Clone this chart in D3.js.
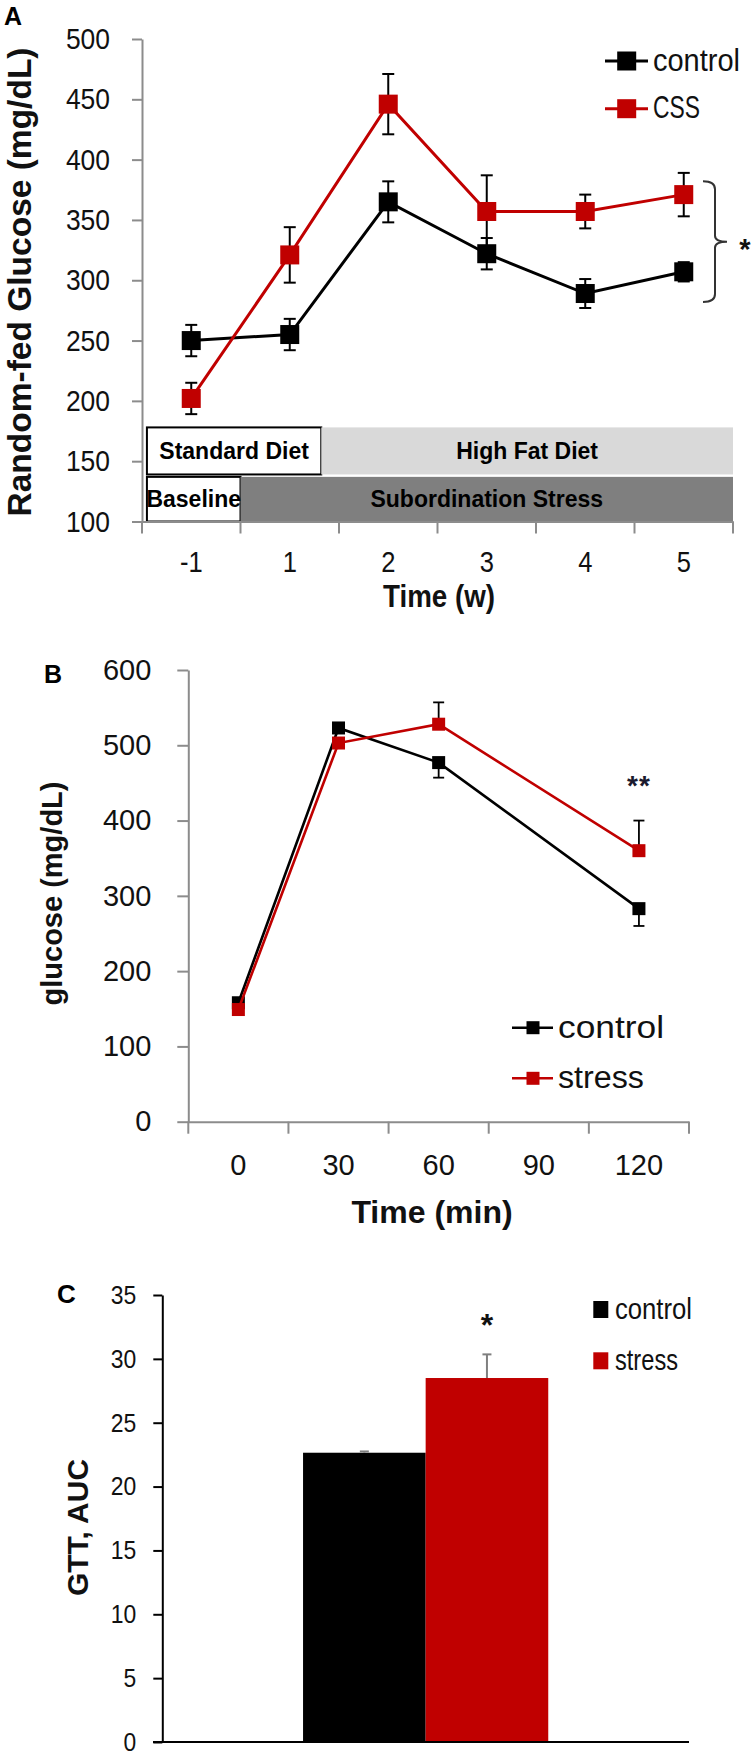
<!DOCTYPE html>
<html>
<head>
<meta charset="utf-8">
<script src="https://cdn.jsdelivr.net/npm/d3@7"></script>
<style>
  html, body { margin: 0; padding: 0; background: #fff; }
  svg { display: block; }
</style>
</head>
<body>
<div id="chart"></div>
<script>
// ---------------- DATA ----------------
// Panel A: random-fed glucose over weeks
const weeksA = ["-1", "1", "2", "3", "4", "5"];
const controlA = [250, 255, 365, 322, 289, 307];
const controlAErr = [13, 13, 17, 13, 12, 8];
const cssA = [202, 321, 446, 357, 357, 371];
const cssAErr = [13, 23, 25, 30, 14, 18];
const yTicksA = [100, 150, 200, 250, 300, 350, 400, 450, 500];
const seriesNamesA = ["control", "CSS"];
// phases in category-index units (0 = start of first week band)
const dietPhases = [
  { label: "Standard Diet", from: 0.05, to: 1.82, top: 178, bottom: 139, kind: "white" },
  { label: "High Fat Diet", from: 1.82, to: 6, top: 178, bottom: 139, kind: "light" }
];
const stressPhases = [
  { label: "Baseline", from: 0.05, to: 1.0, top: 137, bottom: 100, kind: "white" },
  { label: "Subordination Stress", from: 1.0, to: 6, top: 137, bottom: 100, kind: "dark" }
];
const bracketA = { top: 382, bottom: 282, label: "*" };

// Panel B: glucose tolerance test
const timesB = ["0", "30", "60", "90", "120"];
const controlB = [158, 523, 477, null, 283];
const controlBErr = [0, 0, 20, null, 23];
const stressB = [149, 503, 528, null, 360];
const stressBErr = [0, 0, 29, null, 40];
const yTicksB = [0, 100, 200, 300, 400, 500, 600];
const seriesNamesB = ["control", "stress"];
const sigB = { time: "120", label: "**" };

// Panel C: GTT AUC
const seriesC = ["control", "stress"];
const valuesC = [22.65, 28.5];
const errC = [0.1, 1.85];
const yTicksC = [0, 5, 10, 15, 20, 25, 30, 35];
const sigC = { series: "stress", value: 33.2, label: "*" };

// ---------------- STYLE ----------------
const W = 756, H = 1758;
const RED = "#c00000", BLACK = "#000000";
const AXIS_GRAY = "#8c8c8c";
const SANS = "'Liberation Sans',Arial,sans-serif";

// horizontally condense a text selection by a factor (font looks narrower, like the original)
function condense(sel, factor) {
  sel.each(function () {
    const L = this.getComputedTextLength();
    this.setAttribute("textLength", (L * factor).toFixed(1));
    this.setAttribute("lengthAdjust", "spacingAndGlyphs");
  });
}
function fitWidth(sel, width) {
  sel.attr("textLength", width).attr("lengthAdjust", "spacingAndGlyphs");
}

const svg = d3.select("#chart").append("svg")
  .attr("width", W).attr("height", H)
  .attr("viewBox", `0 0 ${W} ${H}`);

// ================= PANEL A =================
(function () {
  const g = svg.append("g");
  const x = d3.scaleBand().domain(weeksA).range([142, 733]);
  const step = x.step();
  const xu = u => x.range()[0] + u * step;
  const y = d3.scaleLinear().domain([100, 500]).range([521.5, 39]);

  // phase boxes
  const allPhases = dietPhases.concat(stressPhases);
  const fillOf = { white: "#ffffff", light: "#d9d9d9", dark: "#7f7f7f" };
  g.selectAll("rect.phase").data(allPhases).join("rect")
    .attr("class", "phase")
    .attr("x", d => xu(d.from)).attr("width", d => xu(d.to) - xu(d.from))
    .attr("y", d => y(d.top)).attr("height", d => y(d.bottom) - y(d.top))
    .attr("fill", d => fillOf[d.kind])
    .attr("stroke", d => d.kind === "white" ? "#000" : "none")
    .attr("stroke-width", 2);
  g.selectAll("text.phase").data(allPhases).join("text")
    .attr("class", "phase")
    .attr("x", d => (xu(d.from) + xu(d.to)) / 2)
    .attr("y", d => (y(d.top) + y(d.bottom)) / 2 + 8)
    .attr("text-anchor", "middle")
    .attr("font-family", SANS).attr("font-weight", "bold").attr("font-size", 23)
    .attr("fill", "#000")
    .text(d => d.label);

  // y axis
  const ya = g.append("g").attr("transform", "translate(142,0)")
    .call(d3.axisLeft(y).tickValues(yTicksA).tickSize(10).tickSizeOuter(0).tickPadding(22));
  ya.select(".domain").attr("stroke", AXIS_GRAY).attr("stroke-width", 2);
  ya.selectAll(".tick line").attr("stroke", AXIS_GRAY).attr("stroke-width", 2);
  ya.selectAll(".tick text").attr("font-family", SANS).attr("font-size", 30).attr("fill", "#111")
    .call(condense, 0.88);

  // x axis
  const xa = g.append("g").attr("transform", `translate(0,${y(100)})`)
    .call(d3.axisBottom(x).tickSize(0).tickSizeOuter(0));
  xa.select(".domain").attr("stroke", AXIS_GRAY).attr("stroke-width", 2);
  xa.selectAll(".tick text").attr("font-family", SANS).attr("font-size", 29)
    .attr("fill", "#111").attr("dy", null).attr("y", 50.5)
    .call(condense, 0.88);
  const bounds = weeksA.map(d => x(d)).concat([x.range()[1]]);
  xa.selectAll("line.bnd").data(bounds).join("line").attr("class", "bnd")
    .attr("x1", d => d).attr("x2", d => d).attr("y1", 0).attr("y2", 12)
    .attr("stroke", AXIS_GRAY).attr("stroke-width", 2);

  // series
  const series = [
    { name: seriesNamesA[0], vals: controlA, err: controlAErr, color: BLACK, w: 87 },
    { name: seriesNamesA[1], vals: cssA, err: cssAErr, color: RED, w: 47 }
  ];
  const cx = d => x(d) + x.bandwidth() / 2;
  series.forEach(s => {
    const pts = weeksA.map((w, i) => ({ w, v: s.vals[i], e: s.err[i] }));
    const sg = g.append("g");
    sg.append("path").datum(pts)
      .attr("d", d3.line().x(d => cx(d.w)).y(d => y(d.v)))
      .attr("fill", "none").attr("stroke", s.color).attr("stroke-width", 3);
    const eb = sg.selectAll("g.err").data(pts).join("g").attr("class", "err");
    eb.append("line").attr("x1", d => cx(d.w)).attr("x2", d => cx(d.w))
      .attr("y1", d => y(d.v + d.e)).attr("y2", d => y(d.v - d.e))
      .attr("stroke", "#000").attr("stroke-width", 2);
    eb.append("line").attr("x1", d => cx(d.w) - 6).attr("x2", d => cx(d.w) + 6)
      .attr("y1", d => y(d.v + d.e)).attr("y2", d => y(d.v + d.e))
      .attr("stroke", "#000").attr("stroke-width", 2);
    eb.append("line").attr("x1", d => cx(d.w) - 6).attr("x2", d => cx(d.w) + 6)
      .attr("y1", d => y(d.v - d.e)).attr("y2", d => y(d.v - d.e))
      .attr("stroke", "#000").attr("stroke-width", 2);
    sg.selectAll("rect.mk").data(pts).join("rect").attr("class", "mk")
      .attr("x", d => cx(d.w) - 9.5).attr("y", d => y(d.v) - 9.5)
      .attr("width", 19).attr("height", 19).attr("fill", s.color);
  });

  // bracket with significance
  const bt = y(bracketA.top), bb = y(bracketA.bottom), bm = (bt + bb) / 2;
  g.append("path")
    .attr("d", `M703,${bt} Q715,${bt} 715,${bt + 8} L715,${bm - 6} Q715,${bm} 727,${bm} Q715,${bm} 715,${bm + 6} L715,${bb - 8} Q715,${bb} 703,${bb}`)
    .attr("fill", "none").attr("stroke", "#333").attr("stroke-width", 2);
  g.append("text").attr("x", 745).attr("y", bm + 17)
    .attr("text-anchor", "middle").attr("font-family", SANS).attr("font-weight", "bold")
    .attr("font-size", 29).attr("fill", "#111").text(bracketA.label);

  // legend
  const lg = g.append("g");
  series.forEach((s, i) => {
    const ly = 61 + i * 47.7;
    lg.append("line").attr("x1", 605).attr("x2", 648).attr("y1", ly).attr("y2", ly)
      .attr("stroke", s.color).attr("stroke-width", 3);
    lg.append("rect").attr("x", 626.7 - 9.5).attr("y", ly - 9.5).attr("width", 19).attr("height", 19)
      .attr("fill", s.color);
    lg.append("text").attr("x", 653).attr("y", ly + 9.5)
      .attr("font-family", SANS).attr("font-size", 32).attr("fill", "#111").text(s.name)
      .call(fitWidth, s.w);
  });

  // titles
  g.append("text").attr("transform", "translate(31,282) rotate(-90)")
    .attr("text-anchor", "middle").attr("font-family", SANS).attr("font-weight", "bold")
    .attr("font-size", 33.5).attr("fill", "#111").text("Random-fed Glucose (mg/dL)");
  g.append("text").attr("x", 439).attr("y", 607).attr("text-anchor", "middle")
    .attr("font-family", SANS).attr("font-weight", "bold").attr("font-size", 32)
    .attr("fill", "#111").text("Time (w)").call(fitWidth, 112);
  g.append("text").attr("x", 4).attr("y", 25).attr("font-family", SANS)
    .attr("font-weight", "bold").attr("font-size", 25).attr("fill", "#000").text("A");
})();

// ================= PANEL B =================
(function () {
  const g = svg.append("g");
  const x = d3.scaleBand().domain(timesB).range([188.3, 689]);
  const y = d3.scaleLinear().domain([0, 600]).range([1121.7, 670]);
  const cx = d => x(d) + x.bandwidth() / 2;

  const ya = g.append("g").attr("transform", "translate(188.3,0)")
    .call(d3.axisLeft(y).tickValues(yTicksB).tickSize(11).tickSizeOuter(0).tickPadding(26));
  ya.select(".domain").attr("stroke", AXIS_GRAY).attr("stroke-width", 2);
  ya.selectAll(".tick line").attr("stroke", AXIS_GRAY).attr("stroke-width", 2);
  ya.selectAll(".tick text").attr("font-family", SANS).attr("font-size", 29).attr("fill", "#111");

  const xa = g.append("g").attr("transform", `translate(0,${y(0)})`)
    .call(d3.axisBottom(x).tickSize(0).tickSizeOuter(0));
  xa.select(".domain").attr("stroke", AXIS_GRAY).attr("stroke-width", 2);
  xa.selectAll(".tick text").attr("font-family", SANS).attr("font-size", 29)
    .attr("fill", "#111").attr("dy", null).attr("y", 53.5);
  const bounds = timesB.map(d => x(d)).concat([x.range()[1]]);
  xa.selectAll("line.bnd").data(bounds).join("line").attr("class", "bnd")
    .attr("x1", d => d).attr("x2", d => d).attr("y1", 0).attr("y2", 12)
    .attr("stroke", AXIS_GRAY).attr("stroke-width", 2);

  const series = [
    { name: seriesNamesB[0], vals: controlB, err: controlBErr, color: BLACK, dir: -1, w: 106 },
    { name: seriesNamesB[1], vals: stressB, err: stressBErr, color: RED, dir: 1, w: 86 }
  ];
  series.forEach(s => {
    const pts = timesB.map((t, i) => ({ t, v: s.vals[i], e: s.err[i] })).filter(d => d.v != null);
    const sg = g.append("g");
    sg.append("path").datum(pts)
      .attr("d", d3.line().x(d => cx(d.t)).y(d => y(d.v)))
      .attr("fill", "none").attr("stroke", s.color).attr("stroke-width", 2.6);
    const eb = sg.selectAll("g.err").data(pts.filter(d => d.e > 0)).join("g").attr("class", "err");
    eb.append("line").attr("x1", d => cx(d.t)).attr("x2", d => cx(d.t))
      .attr("y1", d => y(d.v)).attr("y2", d => y(d.v + s.dir * d.e))
      .attr("stroke", "#000").attr("stroke-width", 1.8);
    eb.append("line").attr("x1", d => cx(d.t) - 5.5).attr("x2", d => cx(d.t) + 5.5)
      .attr("y1", d => y(d.v + s.dir * d.e)).attr("y2", d => y(d.v + s.dir * d.e))
      .attr("stroke", "#000").attr("stroke-width", 1.8);
    sg.selectAll("rect.mk").data(pts).join("rect").attr("class", "mk")
      .attr("x", d => cx(d.t) - 6.5).attr("y", d => y(d.v) - 6.5)
      .attr("width", 13).attr("height", 13).attr("fill", s.color);
  });

  g.append("text").attr("x", cx(sigB.time)).attr("y", 795).attr("text-anchor", "middle")
    .attr("font-family", SANS).attr("font-weight", "bold").attr("font-size", 28)
    .attr("letter-spacing", 1).attr("fill", "#1a1a2e").text(sigB.label);

  // legend
  series.forEach((s, i) => {
    const ly = 1027.7 + i * 50.6;
    g.append("line").attr("x1", 512).attr("x2", 553).attr("y1", ly).attr("y2", ly)
      .attr("stroke", s.color).attr("stroke-width", 2.6);
    g.append("rect").attr("x", 533 - 6.5).attr("y", ly - 6.5).attr("width", 13).attr("height", 13)
      .attr("fill", s.color);
    g.append("text").attr("x", 558).attr("y", ly + 10)
      .attr("font-family", SANS).attr("font-size", 31).attr("fill", "#111").text(s.name)
      .call(fitWidth, s.w);
  });

  g.append("text").attr("transform", "translate(62,893.5) rotate(-90)")
    .attr("text-anchor", "middle").attr("font-family", SANS).attr("font-weight", "bold")
    .attr("font-size", 29).attr("fill", "#111").text("glucose (mg/dL)");
  g.append("text").attr("x", 432).attr("y", 1223).attr("text-anchor", "middle")
    .attr("font-family", SANS).attr("font-weight", "bold").attr("font-size", 32)
    .attr("fill", "#111").text("Time (min)");
  g.append("text").attr("x", 44).attr("y", 683.3).attr("font-family", SANS)
    .attr("font-weight", "bold").attr("font-size", 25).attr("fill", "#000").text("B");
})();

// ================= PANEL C =================
(function () {
  const g = svg.append("g");
  const outer = d3.scaleBand().domain(["GTT"]).range([162.3, 689]).paddingOuter(0.574).paddingInner(0);
  const x = d3.scaleBand().domain(seriesC).range([outer("GTT"), outer("GTT") + outer.bandwidth()]);
  const y = d3.scaleLinear().domain([0, 35]).range([1742, 1295]);
  const color = d3.scaleOrdinal().domain(seriesC).range([BLACK, RED]);

  g.selectAll("rect.bar").data(seriesC).join("rect").attr("class", "bar")
    .attr("x", d => x(d)).attr("width", x.bandwidth())
    .attr("y", (d, i) => y(valuesC[i])).attr("height", (d, i) => y(0) - y(valuesC[i]))
    .attr("fill", d => color(d));

  // error bars (upward)
  seriesC.forEach((s, i) => {
    const c = x(s) + x.bandwidth() / 2;
    g.append("line").attr("x1", c).attr("x2", c)
      .attr("y1", y(valuesC[i])).attr("y2", y(valuesC[i] + errC[i]))
      .attr("stroke", "#7f7f7f").attr("stroke-width", 2);
    g.append("line").attr("x1", c - 4.5).attr("x2", c + 4.5)
      .attr("y1", y(valuesC[i] + errC[i])).attr("y2", y(valuesC[i] + errC[i]))
      .attr("stroke", "#7f7f7f").attr("stroke-width", 2);
  });

  const ya = g.append("g").attr("transform", "translate(162.3,0)")
    .call(d3.axisLeft(y).tickValues(yTicksC).tickSize(9).tickSizeOuter(0).tickPadding(17));
  ya.select(".domain").attr("stroke", "#000").attr("stroke-width", 2);
  ya.selectAll(".tick line").attr("stroke", "#000").attr("stroke-width", 2);
  ya.selectAll(".tick text").attr("font-family", SANS).attr("font-size", 26).attr("fill", "#111")
    .call(condense, 0.88);

  g.append("line").attr("x1", 153).attr("x2", 689).attr("y1", y(0)).attr("y2", y(0))
    .attr("stroke", "#000").attr("stroke-width", 2);

  g.append("text").attr("x", x(sigC.series) + x.bandwidth() / 2).attr("y", y(sigC.value) + 18)
    .attr("text-anchor", "middle").attr("font-family", SANS).attr("font-weight", "bold")
    .attr("font-size", 32).attr("fill", "#111").text(sigC.label);

  // legend
  const legW = { control: 77, stress: 63 };
  seriesC.forEach((s, i) => {
    const ly = 1301 + i * 51.3;
    g.append("rect").attr("x", 593.3).attr("y", ly).attr("width", 15).attr("height", 17)
      .attr("fill", color(s));
    g.append("text").attr("x", 615).attr("y", ly + 18)
      .attr("font-family", SANS).attr("font-size", 30).attr("fill", "#111").text(s)
      .call(fitWidth, legW[s]);
  });

  g.append("text").attr("transform", "translate(88,1527.5) rotate(-90)")
    .attr("text-anchor", "middle").attr("font-family", SANS).attr("font-weight", "bold")
    .attr("font-size", 30).attr("fill", "#111").text("GTT, AUC");
  g.append("text").attr("x", 57).attr("y", 1303).attr("font-family", SANS)
    .attr("font-weight", "bold").attr("font-size", 26).attr("fill", "#000").text("C");
})();
</script>
</body>
</html>
